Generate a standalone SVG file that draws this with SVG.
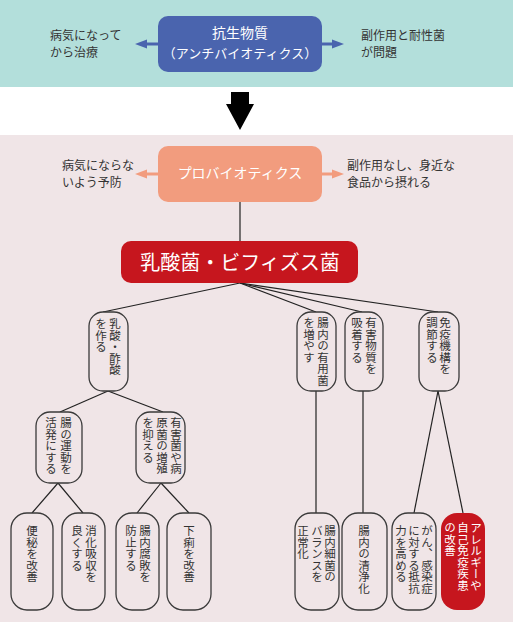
<svg xmlns="http://www.w3.org/2000/svg" width="513" height="622" viewBox="0 0 513 622">
<style>
text{font-family:"Noto Sans CJK JP","Noto Sans CJK SC",sans-serif;}
.lbl{font-size:12px;fill:#333;}
.wt{fill:#fff;text-anchor:middle;}
.node{fill:#f0e5e7;stroke:#3a3a3a;stroke-width:1.3;}
.v{writing-mode:vertical-rl;font-size:11.5px;fill:#333;}
.vw{writing-mode:vertical-rl;font-size:11.5px;fill:#fff;}
.conn line{stroke:#222;stroke-width:1.2;}
</style>
<rect x="0" y="0" width="513" height="87" fill="#b3dfdb"/>
<rect x="0" y="135" width="513" height="487" fill="#f0e5e7"/>

<g id="antibiotics">
<line x1="158" y1="44" x2="146" y2="44" stroke="#4a64ae" stroke-width="3"/>
<polygon points="135,44 147,39.5 147,48.5" fill="#4a64ae"/>
<line x1="322" y1="44" x2="333" y2="44" stroke="#4a64ae" stroke-width="3"/>
<polygon points="344,44 332,39.5 332,48.5" fill="#4a64ae"/>
<rect x="158" y="16" width="164" height="56" rx="10" fill="#4a64ae"/>
<text class="wt" x="240" y="38" font-size="14">抗生物質</text>
<text class="wt" x="240" y="58" font-size="13">（アンチバイオティクス）</text>
</g>
<g id="anti-left"><text class="lbl" x="50" y="40">病気になって</text><text class="lbl" x="50" y="57">から治療</text></g>
<g id="anti-right"><text class="lbl" x="361" y="40">副作用と耐性菌</text><text class="lbl" x="361" y="57">が問題</text></g>

<g id="down-arrow"><polygon points="231,92 249,92 249,104 254,104 240,130 226,104 231,104" fill="#000"/></g>

<g id="probiotics">
<line x1="158" y1="174" x2="146" y2="174" stroke="#f29c7e" stroke-width="3"/>
<polygon points="135,174 147,169.5 147,178.5" fill="#f29c7e"/>
<line x1="322" y1="174" x2="333" y2="174" stroke="#f29c7e" stroke-width="3"/>
<polygon points="344,174 332,169.5 332,178.5" fill="#f29c7e"/>
<rect x="158" y="146" width="164" height="56" rx="10" fill="#f29c7e"/>
<text class="wt" x="240" y="178" font-size="14">プロバイオティクス</text>
</g>
<g id="pro-left"><text class="lbl" x="62" y="169.5">病気にならな</text><text class="lbl" x="62" y="186.5">いよう予防</text></g>
<g id="pro-right"><text class="lbl" x="347" y="169.5">副作用なし、身近な</text><text class="lbl" x="347" y="186.5">食品から摂れる</text></g>

<g class="conn" id="connectors">
<line x1="240" y1="202" x2="240" y2="241"/>
<line x1="240" y1="283" x2="103" y2="312"/>
<line x1="240" y1="283" x2="316" y2="312"/>
<line x1="240" y1="283" x2="362" y2="312"/>
<line x1="240" y1="283" x2="438" y2="312"/>
<line x1="108" y1="391" x2="60" y2="412"/>
<line x1="108" y1="391" x2="163" y2="412"/>
<line x1="58" y1="483" x2="32" y2="513"/>
<line x1="58" y1="483" x2="83" y2="513"/>
<line x1="161" y1="483" x2="137" y2="513"/>
<line x1="161" y1="483" x2="189" y2="513"/>
<line x1="316" y1="391" x2="316" y2="513"/>
<line x1="363" y1="391" x2="363" y2="513"/>
<line x1="438" y1="391" x2="414" y2="513"/>
<line x1="438" y1="391" x2="463" y2="513"/>
</g>

<g id="lactic">
<rect x="121" y="241" width="237" height="42" rx="10" fill="#c6161e"/>
<text class="wt" x="240" y="270" font-size="20">乳酸菌・ビフィズス菌</text>
</g>

<g id="n-acid"><rect class="node" x="89" y="312" width="39" height="79" rx="14"/>
<text class="v" x="115" y="318">乳酸・酢酸</text><text class="v" x="101" y="318">を作る</text></g>
<g id="n-useful"><rect class="node" x="297" y="312" width="39" height="79" rx="14"/>
<text class="v" x="323" y="317">腸内の有用菌</text><text class="v" x="309" y="317">を増やす</text></g>
<g id="n-adsorb"><rect class="node" x="345" y="312" width="38" height="79" rx="14"/>
<text class="v" x="371" y="317">有害物質を</text><text class="v" x="357" y="317">吸着する</text></g>
<g id="n-immune"><rect class="node" x="419" y="312" width="40" height="79" rx="14"/>
<text class="v" x="445" y="317">免疫機構を</text><text class="v" x="432" y="317">調節する</text></g>

<g id="n-motion"><rect class="node" x="36" y="412" width="46" height="71" rx="14"/>
<text class="v" x="66" y="417">腸の運動を</text><text class="v" x="51" y="417">活発にする</text></g>
<g id="n-suppress"><rect class="node" x="136" y="412" width="49" height="71" rx="14"/>
<text class="v" x="176" y="417">有害菌や病</text><text class="v" x="162" y="417">原菌の増殖</text><text class="v" x="148" y="417">を抑える</text></g>

<g id="n-constip"><rect class="node" x="11" y="513" width="42" height="97" rx="16"/>
<text class="v" x="32" y="525">便秘を改善</text></g>
<g id="n-digest"><rect class="node" x="62" y="513" width="43" height="97" rx="16"/>
<text class="v" x="91" y="525">消化吸収を</text><text class="v" x="77" y="525">良くする</text></g>
<g id="n-putrefy"><rect class="node" x="116" y="513" width="43" height="97" rx="16"/>
<text class="v" x="145" y="525">腸内腐敗を</text><text class="v" x="131" y="525">防止する</text></g>
<g id="n-diarrhea"><rect class="node" x="167" y="513" width="44" height="97" rx="16"/>
<text class="v" x="189" y="525">下痢を改善</text></g>
<g id="n-balance"><rect class="node" x="295" y="513" width="44" height="97" rx="16"/>
<text class="v" x="330" y="525">腸内細菌の</text><text class="v" x="317" y="525">バランスを</text><text class="v" x="303" y="525">正常化</text></g>
<g id="n-clean"><rect class="node" x="342" y="513" width="45" height="97" rx="16"/>
<text class="v" x="364" y="525">腸内の清浄化</text></g>
<g id="n-resist"><rect class="node" x="392" y="513" width="44" height="97" rx="16"/>
<text class="v" x="427" y="525">がん、感染症</text><text class="v" x="414" y="525">に対する抵抗</text><text class="v" x="401" y="525">力を高める</text></g>
<g id="n-allergy"><rect x="441" y="513" width="44" height="97" rx="16" fill="#c6161e"/>
<text class="vw" x="476" y="522">アレルギーや</text><text class="vw" x="463" y="522">自己免疫疾患</text><text class="vw" x="450" y="522">の改善</text></g>
</svg>
